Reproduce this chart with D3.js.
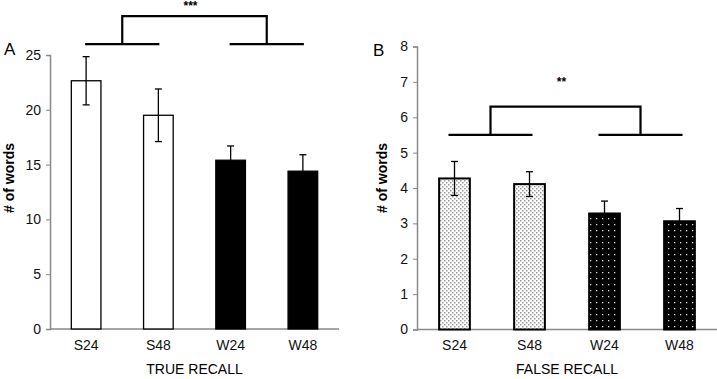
<!DOCTYPE html>
<html><head><meta charset="utf-8">
<script src="https://cdn.jsdelivr.net/npm/d3@7"></script>
<style>body{margin:0;background:#fff}svg{display:block;font-family:"Liberation Sans",Arial,sans-serif}</style>
</head><body><svg id="c" width="717" height="379"></svg>
<script>
const categories = ["S24","S48","W24","W48"];
const trueMeans = [22.65, 19.5, 15.4, 14.4];
const trueErrs = [2.2, 2.4, 1.3, 1.5];
const falseMeans = [4.27, 4.11, 3.28, 3.06];
const falseErrs = [0.48, 0.35, 0.35, 0.36];
const trueTicks = [0,5,10,15,20,25];
const falseTicks = [0,1,2,3,4,5,6,7,8];

const svg = d3.select("#c");
const defs = svg.append("defs");
const p1 = defs.append("pattern").attr("id","light").attr("width",4).attr("height",4).attr("patternUnits","userSpaceOnUse");
p1.append("rect").attr("width",4).attr("height",4).attr("fill","#fff");
p1.append("rect").attr("x",0).attr("y",0).attr("width",1.5).attr("height",1.5).attr("fill","#999");
p1.append("rect").attr("x",2).attr("y",2).attr("width",1.5).attr("height",1.5).attr("fill","#999");
const p2 = defs.append("pattern").attr("id","dark").attr("width",6).attr("height",6).attr("patternUnits","userSpaceOnUse");
p2.append("rect").attr("width",6).attr("height",6).attr("fill","#000");
p2.append("rect").attr("x",2).attr("y",2).attr("width",1.3).attr("height",1.3).attr("fill","#ddd");

const FONT = "Liberation Sans, Arial, sans-serif";
function panel(o){
  const x = d3.scaleBand().domain(categories).range([o.x0,o.x1]).paddingInner(0.59).paddingOuter(0.295);
  const y = d3.scaleLinear().domain([0,o.max]).range([o.y0,o.y1]);
  const g = svg.append("g");
  const ya = g.append("g").attr("transform",`translate(${o.x0},0)`).call(d3.axisLeft(y).tickValues(o.ticks).tickSize(4).tickPadding(5));
  ya.select(".domain").attr("stroke","#888").attr("stroke-width",1.5);
  ya.selectAll(".tick line").attr("stroke","#888");
  ya.selectAll("text").attr("font-size",14).attr("fill","#111").attr("font-family",FONT);
  const xa = g.append("g").attr("transform",`translate(0,${o.y0})`).call(d3.axisBottom(x).tickSize(0).tickPadding(11));
  xa.select(".domain").attr("stroke","#888").attr("stroke-width",1.5).attr("d",`M${o.x0},0H${o.x1}`);
  xa.selectAll("text").attr("font-size",14).attr("fill","#111").attr("font-family",FONT);
  g.selectAll(".bar").data(o.means).enter().append("rect")
    .attr("x",(d,i)=>x(categories[i])).attr("width",x.bandwidth())
    .attr("y",d=>y(d)).attr("height",d=>o.y0-y(d))
    .attr("fill",(d,i)=>o.fills[i]).attr("stroke","#000").attr("stroke-width",o.sw);
  const eg = g.selectAll(".err").data(o.means).enter().append("g");
  eg.append("line").attr("x1",(d,i)=>x(categories[i])+x.bandwidth()/2).attr("x2",(d,i)=>x(categories[i])+x.bandwidth()/2)
    .attr("y1",(d,i)=>y(d-o.errs[i])).attr("y2",(d,i)=>y(d+o.errs[i])).attr("stroke","#000").attr("stroke-width",1.3);
  [1,-1].forEach(s=>{
    eg.append("line").attr("x1",(d,i)=>x(categories[i])+x.bandwidth()/2-3.5).attr("x2",(d,i)=>x(categories[i])+x.bandwidth()/2+3.5)
      .attr("y1",(d,i)=>y(d+s*o.errs[i])).attr("y2",(d,i)=>y(d+s*o.errs[i])).attr("stroke","#000").attr("stroke-width",1.3);
  });
  const c = k=>x(categories[k])+x.bandwidth()/2;
  const yb = y(o.bLow), yt = y(o.bHigh);
  const l1a=c(0)-o.bOff, l1b=c(1)+o.bOff2, l2a=c(2)-o.bOff, l2b=c(3)+o.bOff2;
  const m1=(l1a+l1b)/2, m2=(l2a+l2b)/2;
  g.append("path").attr("d",`M${l1a},${yb}H${l1b}M${l2a},${yb}H${l2b}M${m1},${yb}V${yt}H${m2}V${yb}`)
    .attr("fill","none").attr("stroke","#000").attr("stroke-width",2.2);
  g.append("text").attr("x",(m1+m2)/2-4).attr("y",o.starY).attr("text-anchor","middle").attr("font-size",12).attr("font-weight","bold").text(o.stars);
  g.append("text").attr("x",o.letterX).attr("y",o.letterY).attr("font-size",17).text(o.letter);
  g.append("text").attr("transform",`translate(${o.ytX},178) rotate(-90)`).attr("text-anchor","middle")
    .attr("font-size",14).attr("font-weight","bold").text("# of words");
  g.append("text").attr("x",(o.x0+o.x1)/2).attr("y",374).attr("text-anchor","middle").attr("font-size",14).text(o.title);
}
panel({x0:50,x1:339,y0:329,y1:55,max:25,ticks:trueTicks,means:trueMeans,errs:trueErrs,
  fills:["#fff","#fff","#000","#000"],sw:1.3,bLow:26,bHigh:28.55,bOff:1,bOff2:1,stars:"***",starY:10,
  letter:"A",letterX:4,letterY:55,ytX:14,title:"TRUE RECALL"});
panel({x0:417,x1:717,y0:329.5,y1:46.5,max:8,ticks:falseTicks,means:falseMeans,errs:falseErrs,
  fills:["url(#light)","url(#light)","url(#dark)","url(#dark)"],sw:2,bLow:5.5,bHigh:6.3,bOff:6,bOff2:3,stars:"**",starY:86,
  letter:"B",letterX:373,letterY:56,ytX:387,title:"FALSE RECALL"});
</script></body></html>
